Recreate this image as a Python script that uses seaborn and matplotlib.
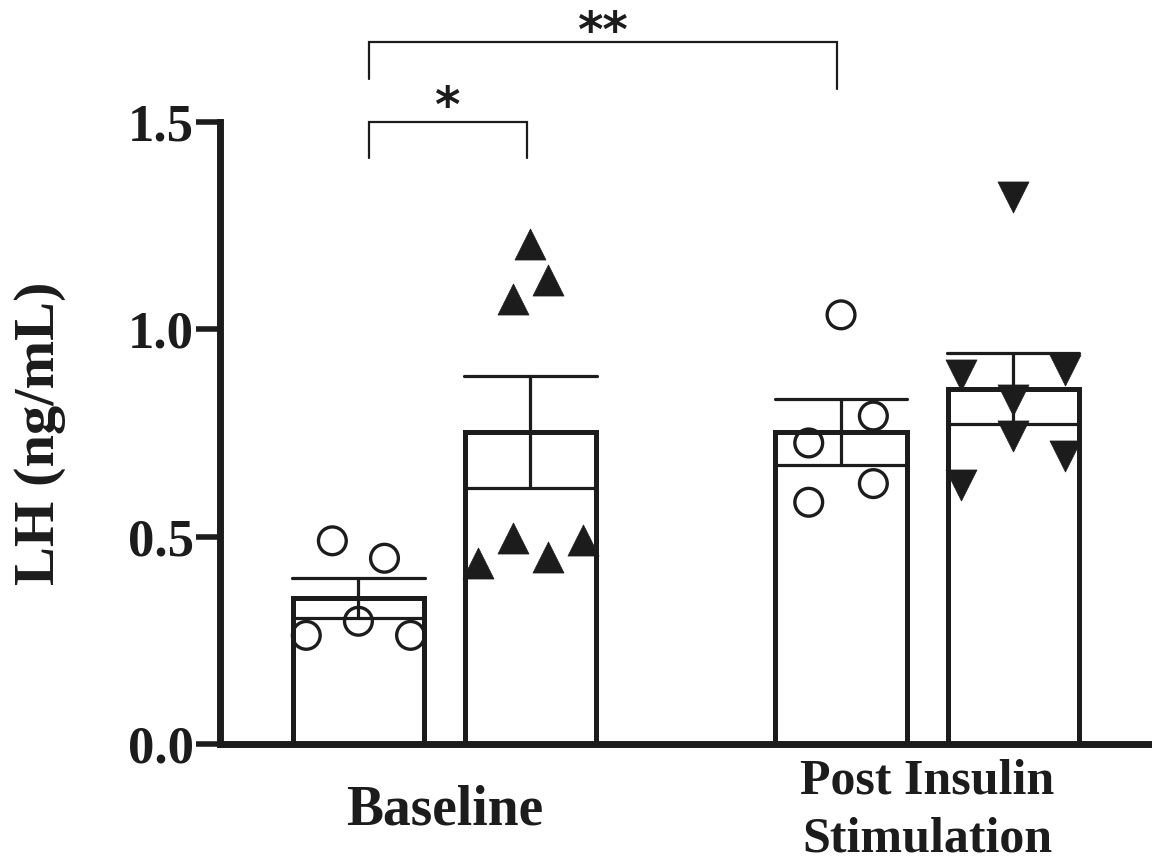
import numpy as np
import pandas as pd
import matplotlib
matplotlib.use("Agg")
import matplotlib.pyplot as plt
import seaborn as sns

# ---------------- data ----------------
conditions = ["Baseline", "Post Insulin\nStimulation"]
cohorts = ["Control", "Test"]

baseline_control = [0.490, 0.448, 0.296, 0.262, 0.262]
baseline_test = [1.206, 1.118, 1.074, 0.496, 0.450, 0.492, 0.436]
post_control = [1.035, 0.791, 0.726, 0.628, 0.583]
post_test = [1.318, 0.889, 0.903, 0.830, 0.742, 0.694, 0.625]

y_ticks = [0.0, 0.5, 1.0, 1.5]
y_tick_labels = ["0.0", "0.5", "1.0", "1.5"]
y_label = "LH (ng/mL)"
sig_small = "*"
sig_big = "**"

# ---------------- layout (horizontal scatter spread, in point-column units) ----------------
spread = {
    (0, 0): [-0.5, 0.5, 0, -1, 1],
    (0, 1): [0, 1 / 3, -1 / 3, -1 / 3, 1 / 3, 1, -1],
    (1, 0): [0, 0.62, -0.62, 0.62, -0.62],
    (1, 1): [0, -1, 1, 0, 0, 1, -1],
}
markers = {(0, 0): "o", (0, 1): "^", (1, 0): "o", (1, 1): "v"}
series = {(0, 0): baseline_control, (0, 1): baseline_test,
          (1, 0): post_control, (1, 1): post_test}

rows = []
for (ci, hi), vals in series.items():
    for v in vals:
        rows.append({"condition": conditions[ci], "cohort": cohorts[hi], "LH": v})
df = pd.DataFrame(rows)

ink = "#1c1c1c"
serif = "Liberation Serif"

sns.set_theme(style="white")
plt.rcParams["font.family"] = [serif, "DejaVu Serif"]

fig = plt.figure(figsize=(11.52, 8.63), dpi=100)
ax = fig.add_axes([0.191, 0.1379, 0.8073, 0.7207])

WIDTH = 0.713
GAP = 0.238
sns.barplot(
    data=df, x="condition", y="LH", hue="cohort",
    order=conditions, hue_order=cohorts,
    palette=["white", "white"], width=WIDTH, gap=GAP,
    errorbar="se", capsize=0.55,
    err_kws={"color": ink, "linewidth": 2.3},
    edgecolor=ink, linewidth=3.6, legend=False, ax=ax,
)

# bar centres from the dodge geometry
def bar_center(ci, hi):
    return ci + (hi - 0.5) * WIDTH / 2

slot = 0.108
for key, vals in series.items():
    ci, hi = key
    xs = [bar_center(ci, hi) + s * slot for s in spread[key]]
    if markers[key] == "o":
        sns.scatterplot(x=xs, y=vals, marker="o", s=400, facecolor="none",
                        edgecolor=ink, linewidth=2.4, ax=ax, zorder=5)
    else:
        sns.scatterplot(x=xs, y=vals, marker=markers[key], s=500, color=ink,
                        edgecolor=ink, linewidth=0.5, ax=ax, zorder=5)

ax.set_xlim(-0.465, 1.462)
ax.set_ylim(0, 1.5)
ax.set_yticks(y_ticks)
ax.set_yticklabels(y_tick_labels)
for lab in ax.get_yticklabels():
    lab.set_fontsize(38)
    lab.set_fontweight("bold")
    lab.set_color(ink)
ax.tick_params(axis="y", length=17, width=4, color=ink, pad=2, direction="out", left=True)
ax.tick_params(axis="x", length=0, pad=48)
xt = ax.get_xticklabels()
for lab, fs in zip(xt, [40, 36]):
    lab.set_fontsize(fs)
    lab.set_fontweight("bold")
    lab.set_color(ink)
    lab.set_va("center")
    lab.set_linespacing(1.35)

ax.set_xlabel("")
ax.set_ylabel(y_label, fontsize=42, fontweight="bold", color=ink)
ax.yaxis.label.set_va("center")
ax.yaxis.set_label_coords(-0.1935, 0.5)

for side in ["top", "right"]:
    ax.spines[side].set_visible(False)
for side in ["left", "bottom"]:
    ax.spines[side].set_linewidth(5)
    ax.spines[side].set_color(ink)
    ax.spines[side].set_capstyle("projecting")

# significance brackets
def bracket(x1, x2, ytop, yl, yr, text, ty, fs):
    ax.plot([x1, x1, x2, x2], [yl, ytop, ytop, yr], color=ink, lw=1.6,
            clip_on=False, solid_joinstyle="miter")
    ax.text((x1 + x2) / 2, ty, text, ha="center", va="center", fontsize=fs,
            fontweight="bold", color=ink, family="DejaVu Sans", clip_on=False)

b1 = bar_center(0, 0) + 0.022
b2 = bar_center(0, 1) - 0.007
b3 = bar_center(1, 0) - 0.008
bracket(b1, b2, 1.5, 1.413, 1.413, sig_small, 1.535, 35)
bracket(b1, b3, 1.693, 1.604, 1.58, sig_big, 1.715, 35)

fig.savefig("out.png", dpi=100, facecolor="white")
